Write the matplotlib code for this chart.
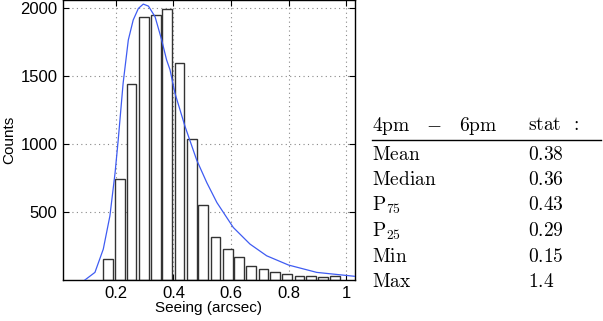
"""
Seeing histogram (4pm - 6pm) with fitted curve and a small stats table on the right.
"""

import matplotlib
matplotlib.use("Agg")
import matplotlib.pyplot as plt

plt.rcParams["font.family"] = ["Liberation Sans", "DejaVu Sans"]
plt.rcParams["mathtext.fontset"] = "cm"

# Histogram: bin centres (arcsec) and counts
bin_centers = [0.171, 0.213, 0.254, 0.296, 0.338, 0.379, 0.421, 0.463, 0.504, 0.546,
               0.588, 0.629, 0.671, 0.713, 0.754, 0.796, 0.838, 0.879, 0.921, 0.963]
counts = [155, 740, 1440, 1930, 1945, 1990, 1595, 1037, 550, 315,
          227, 171, 102, 78, 56, 42, 27, 27, 20, 27]
bar_width = 0.0345

# Fitted curve, points
fit_x = [0.092, 0.127, 0.156, 0.179, 0.197, 0.208, 0.225, 0.243, 0.260, 0.278,
         0.295, 0.313, 0.336, 0.359, 0.376, 0.388, 0.405, 0.440, 0.481, 0.516,
         0.551, 0.608, 0.666, 0.724, 0.800, 0.898, 1.031]
fit_y = [0, 56, 227, 471, 788, 1032, 1447, 1764, 1911, 1996,
         2028, 2013, 1935, 1764, 1618, 1545, 1374, 1130, 880, 715,
         569, 386, 264, 178, 110, 56, 27]

# Stats table
stat_names = [r"$\mathrm{Mean}$", r"$\mathrm{Median}$", r"$\mathrm{P}_{75}$",
              r"$\mathrm{P}_{25}$", r"$\mathrm{Min}$", r"$\mathrm{Max}$"]
stat_values = ["0.38", "0.36", "0.43", "0.29", "0.15", "1.4"]
header = [r"$\mathrm{4pm}\quad\!-\quad\!\mathrm{6pm}$", r"$\mathrm{stat}\;\;\mathrm{:}$"]

fig = plt.figure(figsize=(6.03, 3.21), dpi=100)
ax = fig.add_axes([0.1045, 0.1277, 0.4842, 0.8723])

ax.bar(bin_centers, counts, width=bar_width, color="white",
       edgecolor="#333333", linewidth=1.0, zorder=2)
ax.plot(fit_x, fit_y, color="#3f5cf2", linewidth=0.9, zorder=3)

ax.set_xlim(0.016, 1.031)
ax.set_ylim(0, 2058)
ax.set_xticks([0.2, 0.4, 0.6, 0.8, 1.0])
ax.set_xticklabels(["0.2", "0.4", "0.6", "0.8", "1"])
ax.set_yticks([500, 1000, 1500, 2000])

ax.grid(True, linestyle=(0, (1, 3)), color="#888888", linewidth=0.8, zorder=0)
ax.set_axisbelow(True)
ax.tick_params(direction="in", length=4, top=True, right=True,
               labelsize=12, pad=4)
for s in ax.spines.values():
    s.set_linewidth(1.0)

ax.set_xlabel("Seeing (arcsec)", fontsize=11, labelpad=0)
ax.set_ylabel("Counts", fontsize=11, labelpad=3)

# Table drawn as figure text
W, H = 603.0, 321.0
col_x = [372 / W, 528 / W]
fs = 14
fig.text(col_x[0], 1 - 126 / H, header[0], fontsize=fs, va="center", ha="left")
fig.text(col_x[1], 1 - 126 / H, header[1], fontsize=fs, va="center", ha="left")
fig.add_artist(plt.Line2D([372 / W, 601 / W], [1 - 139.5 / H, 1 - 139.5 / H],
                          color="black", linewidth=1.0))
row_y = [154.5, 180, 205.5, 231, 256.5, 282]
for name, val, yy in zip(stat_names, stat_values, row_y):
    fig.text(col_x[0], 1 - yy / H, name, fontsize=fs, va="center", ha="left")
    fig.text(col_x[1], 1 - yy / H, r"$\mathrm{%s}$" % val, fontsize=fs,
             va="center", ha="left")

fig.savefig("out.png", dpi=100)
